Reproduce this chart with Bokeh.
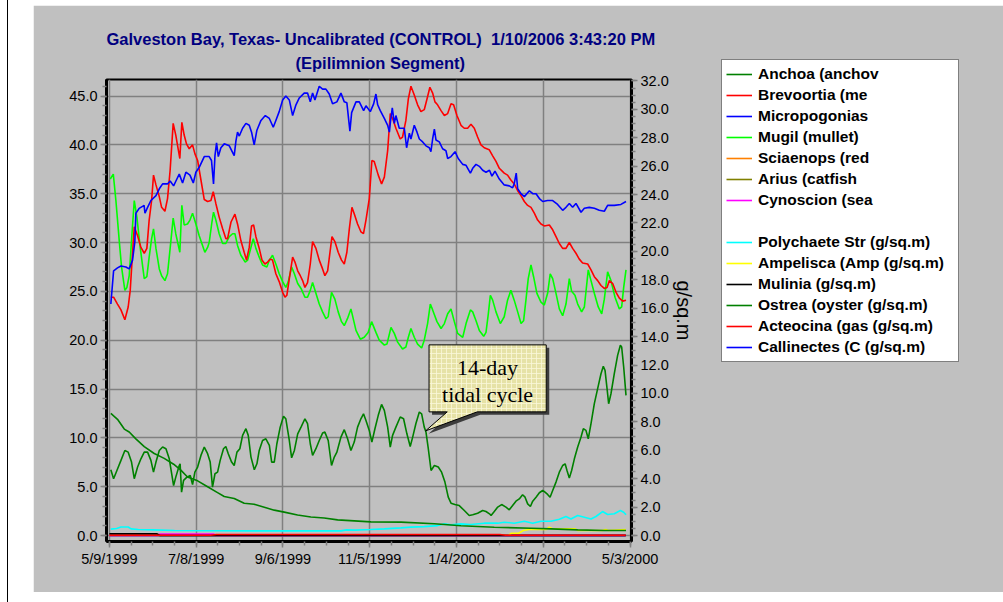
import numpy as np
from bokeh.plotting import figure
from bokeh.models import (Range1d, LinearAxis, FixedTicker, Legend, LegendItem,
                          Title, Div, Label, PrintfTickFormatter)
from bokeh.layouts import row
from bokeh.embed import file_html
from bokeh.resources import INLINE

# ---------------- data (x = days after 5/9/1999) ----------------
x_ticks = [0, 60, 120, 180, 240, 300, 360]
x_tick_labels = ["5/9/1999", "7/8/1999", "9/6/1999", "11/5/1999",
                 "1/4/2000", "3/4/2000", "5/3/2000"]
left_ticks = [0, 5, 10, 15, 20, 25, 30, 35, 40, 45]
right_ticks = [0, 2, 4, 6, 8, 10, 12, 14, 16, 18, 20, 22, 24, 26, 28, 30, 32]

title_line1 = "Galveston Bay, Texas- Uncalibrated (CONTROL)\u00a0 1/10/2006 3:43:20 PM"
title_line2 = "(Epilimnion Segment)"
right_axis_label = "g/sq.m"
callout_lines = ["14-day", "tidal cycle"]

anchoa_days = [1, 5.6, 10.3, 13.7, 18.3, 24.1, 31, 37.9, 44.4, 49.4, 54, 61, 67.9, 74.8,
               79.4, 86.3, 93.2, 100.1, 107.1, 114, 120.9, 130.1, 139.3, 148.5, 157.8,
               169.3, 180.8, 201.6, 224.7, 243.1, 266.1, 291.5, 305.3, 323.8, 342.2, 357.2]
anchoa_vals = [12.5, 11.9, 10.9, 10.6, 9.9, 9.1, 8.4, 7.9, 7.3, 6.7, 6.0, 5.6, 5.0, 4.4,
               4.0, 3.8, 3.3, 3.2, 2.9, 2.6, 2.4, 2.1, 1.9, 1.8, 1.6,
               1.5, 1.4, 1.37, 1.2, 1.0, 0.85, 0.75, 0.68, 0.58, 0.51, 0.51]

brev_days = [1, 2.9, 5.6, 8, 10.7, 13, 14.4, 16, 17.2, 19.5,
             21.8, 24.1, 25.9, 27.5, 29.2, 30.5, 32.2, 34.5, 36.1, 38.4,
             40.2, 42, 44.1, 45.9, 48.7, 50.1, 51.7, 53.3, 55.2, 57.5,
             59.1, 61, 63.3, 65.6, 67.9, 70.2, 71.8, 73.6, 75.9, 78.3,
             80.5, 81.7, 84.1, 86.8, 88.6, 90.9, 93.2, 94.8, 96.7, 98.3,
             99.7, 101.3, 103.6, 105.5, 107.5, 109.4, 111.2, 112.8, 115.1, 117.4,
             119.8, 121.4, 122.7, 124.4, 126.7, 128.3, 130.2, 132, 133.6, 135.2,
             137, 138.9, 140.5, 142.8, 145.1, 147.4, 149, 150.9, 152.7, 153.9,
             155.9, 158.2, 160.5, 162.4, 164.2, 165.9, 167.7, 169.4, 171.6, 173.9,
             175.7, 177.4, 179.7, 181.5, 183.1, 185.9, 188.2, 190.1, 192.4, 194.2,
             196.3, 198.1, 201.1, 202.7, 205, 206.7, 208.5, 210.8, 213.1, 215.4,
             217.7, 219.6, 221.6, 223.5, 225.1, 226.9, 229.3, 231.6, 233.9, 236.2,
             238, 240.3, 243.1, 245.4, 247.7, 250, 252.3, 254.6, 256.9, 259.2,
             262.6, 264.9, 267.3, 269.6, 273, 275.3, 277.6, 279.9, 282.3, 284.6,
             286.9, 289.2, 291.5, 293.8, 296.1, 298.4, 300.7, 304.2, 306.5, 308.8,
             311.1, 313.4, 315.7, 318, 320.3, 322.6, 324.9, 327.2, 330.7, 333,
             335.3, 337.6, 339.9, 342.2, 344.1, 345.7, 348, 350.3, 352.6, 354.9,
             357.2]
brev_vals = [24.4, 24.4, 23.7, 23.1, 22.1, 23.4, 25.1, 28.9, 31.6, 30.7,
             29.5, 28.9, 29.4, 32.3, 34.3, 36.9, 35.9, 34.7, 33.6, 33.2,
             34.5, 37.4, 42.2, 41.0, 38.6, 42.3, 41.0, 40.1, 39.6, 40.0,
             39.1, 38.4, 36.4, 34.4, 34.2, 34.3, 35.2, 34.0, 32.6, 31.4,
             30.4, 30.4, 32.1, 32.9, 31.9, 30.2, 29.0, 28.2, 29.5, 31.7,
             31.8, 30.6, 29.4, 28.2, 27.8, 28.0, 28.3, 28.2, 26.8, 26.0,
             24.9, 24.4, 24.6, 26.3, 28.5, 28.0, 27.1, 26.6, 26.1, 25.4,
             25.9, 27.8, 30.1, 29.4, 28.2, 27.3, 26.6, 27.1, 29.2, 30.6,
             30.1, 29.0, 28.2, 27.8, 29.0, 31.4, 33.6, 32.9, 31.9, 31.1,
             30.9, 32.3, 34.5, 38.4, 38.3, 36.9, 36.0, 36.7, 39.4, 43.2,
             42.5, 41.7, 40.6, 40.8, 42.5, 44.7, 46.0, 45.1, 44.1, 43.4,
             43.6, 44.7, 45.9, 45.3, 44.4, 44.1, 43.5, 43.0, 43.2, 44.2,
             44.1, 43.0, 42.0, 41.7, 41.7, 42.1, 41.7, 40.8, 40.0, 39.7,
             39.5, 38.9, 38.3, 37.6, 37.1, 36.9, 36.4, 36.0, 35.3, 34.8,
             34.2, 33.8, 33.6, 33.0, 32.3, 31.9, 31.7, 31.8, 31.3, 30.6,
             29.9, 29.4, 29.4, 30.0, 29.4, 28.9, 28.3, 27.9, 27.8, 27.2,
             26.5, 26.1, 25.6, 25.3, 25.4, 26.1, 25.8, 24.9, 24.3, 24.0,
             24.1]

micro_days = [1, 2.9, 5.6, 8, 11.4, 13.7, 16, 17.6, 18.3, 20.6,
              22.9, 24, 24.6, 26.4, 28.7, 32.2, 34.5, 36.8, 40.2, 42,
              44.4, 46, 48.3, 50.6, 52.9, 55.7, 58, 59.8, 62.1, 65.6,
              69, 70.6, 72, 73, 74.1, 75.3, 77.1, 79.4, 82.9, 86.3,
              87.5, 88.6, 89.8, 92.1, 94.4, 96.7, 98.3, 100.1, 102, 104.8,
              107.8, 110.6, 113.3, 115.1, 117.4, 119.8, 122, 124.4, 126.7, 129,
              131.3, 134.7, 137, 138.9, 140.5, 142.1, 145.1, 147.4, 149.7, 152,
              154.3, 157.3, 160.1, 162.4, 164.2, 166.3, 167.5, 170.5, 172.8, 175.8,
              177.4, 180.4, 182.7, 184.3, 185.5, 187.3, 190.1, 192.4, 193.6, 194.2,
              195.6, 197, 198.1, 200.4, 203.9, 205.5, 207.4, 208.5, 210.8, 212.7,
              214.3, 216.6, 218.9, 221.2, 222.3, 223.5, 224.7, 225.8, 228.1, 230.4,
              232.7, 233.9, 236.2, 239, 241.2, 244.3, 246.6, 249.6, 251.2, 253.5,
              255.8, 258.1, 260.4, 262.8, 264.5, 266.6, 269.6, 273, 276.5, 278.8,
              279.9, 281.3, 282.3, 284.6, 286.9, 290.4, 292.7, 295, 297.3, 299.6,
              303, 306.5, 309.9, 313.4, 315.7, 318, 320.3, 322.6, 326.1, 328.4,
              331.8, 335.3, 338.7, 342.2, 344.5, 349.1, 353.7, 357.2]
micro_vals = [23.7, 27.1, 27.4, 27.6, 27.5, 27.3, 28.2, 30.1, 33.0, 33.5,
              33.7, 33.8, 33.0, 33.6, 34.3, 34.8, 35.5, 36.0, 36.0, 36.3,
              35.8, 36.3, 37.0, 36.1, 37.2, 36.9, 36.1, 37.2, 37.7, 38.8,
              38.8, 38.4, 36.0, 38.9, 40.2, 38.8, 39.7, 40.1, 39.9, 38.9,
              40.4, 41.3, 40.9, 41.7, 42.2, 42.0, 41.3, 40.0, 41.5, 42.5,
              43.0, 42.7, 41.8, 42.5, 43.4, 44.6, 45.0, 44.6, 43.0, 44.1,
              44.8, 45.3, 45.3, 44.4, 45.3, 44.6, 46.0, 45.7, 45.7, 45.2,
              44.2, 44.4, 45.3, 44.4, 44.3, 41.4, 43.3, 44.4, 44.4, 43.5,
              44.0, 43.4, 44.2, 45.2, 44.1, 43.5, 42.7, 42.0, 41.3, 42.2,
              43.8, 42.2, 43.0, 41.7, 41.7, 39.7, 41.2, 40.6, 42.0, 41.3,
              40.6, 40.3, 39.9, 39.7, 39.3, 40.6, 41.6, 40.5, 40.3, 39.6,
              39.4, 38.6, 38.8, 39.3, 38.6, 38.0, 37.9, 37.1, 37.6, 38.0,
              37.8, 37.4, 37.2, 37.4, 36.8, 37.3, 36.5, 35.9, 35.8, 35.6,
              36.0, 37.1, 35.5, 35.0, 34.7, 35.3, 35.0, 35.0, 34.5, 34.2,
              34.3, 34.3, 33.9, 33.3, 33.6, 34.0, 33.6, 34.0, 33.1, 33.5,
              33.6, 33.5, 33.3, 33.2, 33.8, 33.8, 33.9, 34.2]

mugil_days = [0.6, 2.7, 4.5, 6.8, 8.4, 10.7, 12.1, 13.7, 15.3, 17.2,
              19, 21.3, 24.1, 25.9, 27.5, 29.2, 30.5, 32.2, 34.5, 36.1,
              38.4, 40.2, 42, 44.1, 45.9, 48.7, 50.1, 51.7, 54, 55.7,
              57.5, 59.8, 62.1, 64.4, 66, 67.9, 69, 70.9, 72, 73.6,
              75.9, 78.3, 80.5, 82.9, 85.2, 86.8, 88.6, 90.9, 93.9, 95.6,
              97.9, 99.5, 101.3, 103.6, 105.9, 108.9, 110.6, 112.8, 115.1, 117.4,
              119.8, 122, 123.7, 126, 127.9, 130.2, 132.5, 135.2, 137, 138.9,
              140.5, 142.8, 145.1, 147.4, 149.7, 151.3, 153.6, 155.9, 158.2, 160.5,
              162.4, 164.6, 167, 170.5, 173.5, 176.2, 178.9, 181.3, 184.3, 186.6,
              190.1, 191.9, 194.7, 197, 199.3, 202.7, 205, 206.7, 208.5, 210.8,
              213.1, 215.9, 217.7, 220, 221.9, 223.5, 226.5, 229.3, 231.6, 233.9,
              236.2, 238.5, 240.8, 244.3, 246.6, 249.6, 251.2, 253.5, 255.8, 258.8,
              260.4, 262, 263.4, 265, 267.3, 270.3, 273, 275.3, 277.6, 279.9,
              282.3, 284.6, 286.4, 288, 289.6, 291.5, 293.3, 295.6, 298.4, 300.7,
              303, 304.8, 306.5, 308.8, 311.1, 313.4, 315.7, 318, 319.6, 321.9,
              323.8, 326.5, 328.4, 331.1, 333, 335.3, 338, 340.4, 342.2, 344.5,
              346.8, 349.6, 352.6, 354.2, 355.6, 357.2]
mugil_vals = [36.5, 37.0, 34.3, 30.2, 27.5, 25.1, 25.4, 26.6, 30.2, 34.3,
              32.6, 29.5, 26.3, 26.5, 28.5, 30.4, 31.4, 29.4, 27.3, 26.6,
              26.1, 26.8, 29.4, 32.5, 30.9, 29.0, 33.8, 31.8, 31.9, 32.3,
              33.0, 31.9, 30.7, 29.7, 29.0, 29.5, 30.0, 32.1, 33.1, 32.3,
              30.9, 29.9, 29.9, 30.6, 30.9, 30.9, 29.7, 28.7, 28.0, 28.2,
              29.5, 30.4, 29.4, 28.5, 27.7, 27.5, 28.2, 28.7, 27.8, 26.8,
              26.0, 25.4, 26.0, 27.5, 26.8, 25.8, 25.3, 24.4, 24.4, 25.1,
              25.9, 24.8, 23.7, 22.9, 22.2, 22.4, 24.9, 24.2, 22.9, 21.9,
              21.5, 22.2, 23.2, 21.0, 20.1, 20.3, 20.8, 21.9, 20.8, 20.0,
              19.5, 19.6, 21.3, 20.7, 19.8, 19.1, 19.3, 20.3, 21.2, 20.3,
              19.6, 19.2, 20.0, 21.7, 23.7, 23.1, 21.9, 21.2, 21.7, 22.7,
              23.2, 21.9, 20.7, 20.3, 21.7, 23.1, 22.9, 22.0, 21.0, 20.4,
              20.8, 22.7, 24.6, 24.1, 22.9, 21.7, 22.4, 24.1, 25.1, 24.1,
              22.9, 21.7, 22.0, 24.1, 26.3, 27.7, 26.5, 24.8, 23.9, 23.6,
              24.8, 26.8, 26.3, 24.8, 23.2, 22.5, 23.7, 26.3, 25.0, 24.6,
              23.7, 22.9, 23.4, 27.2, 26.1, 24.8, 23.4, 22.7, 24.2, 27.0,
              26.1, 24.4, 23.2, 23.4, 25.4, 27.2]

sciaenops_days = [0, 357]
sciaenops_vals = [0.02, 0.02]
arius_days = [0, 357]
arius_vals = [0.02, 0.02]
cynoscion_days = [0, 33, 35, 72, 74, 357]
cynoscion_vals = [0.0, 0.0, 0.15, 0.15, 0.0, 0.0]

poly_days = [1, 5, 8, 13, 15, 20, 30, 45, 100, 160,
             164, 170, 180.8, 190, 201.6, 208.5, 217.7, 226.9, 231.6, 236.2,
             243.1, 250, 259.2, 268.5, 273, 279.9, 286.9, 292.7, 298.4, 305.3,
             311.1, 315.7, 319.1, 323.8, 328.4, 333, 336.4, 341, 344.5, 349.1,
             353.3, 355.6, 357.2]
poly_vals = [0.45, 0.5, 0.6, 0.6, 0.47, 0.42, 0.4, 0.35, 0.33, 0.33,
             0.4, 0.38, 0.42, 0.47, 0.54, 0.59, 0.63, 0.7, 0.82, 0.75,
             0.82, 0.78, 0.87, 0.87, 0.94, 0.87, 1.01, 0.87, 1.01, 1.01,
             1.15, 1.34, 1.17, 1.41, 1.29, 1.17, 1.34, 1.69, 1.48, 1.53,
             1.76, 1.64, 1.46]

ampel_days = [0, 276, 278, 283, 286, 290, 302, 304, 306, 322, 324, 341, 343, 345, 357]
ampel_vals = [0.02, 0.02, 0.16, 0.16, 0.35, 0.42, 0.42, 0.59, 0.5, 0.47, 0.35, 0.35, 0.42, 0.35, 0.42]

mulinia_days = [0, 33, 35, 357]
mulinia_vals = [0.12, 0.12, 0.0, 0.0]

ostrea_days = [1, 2.9, 5.2, 8, 10.7, 13, 15.3, 17.2, 19.5, 21.8,
               24.1, 26.4, 28.7, 30.5, 32.2, 34.5, 36.8, 39.1, 41.4, 44.4,
               45.9, 48.3, 48.9, 49.9, 51.3, 53.6, 55.9, 57.5, 59.1, 61,
               63.3, 65.6, 67.9, 69.7, 71.3, 73, 74.8, 76.6, 78.9, 80.5,
               82.2, 84.5, 86.3, 88.2, 90.2, 92.1, 94.4, 96, 97.9, 100.2,
               102, 103.6, 105.9, 108.2, 110.6, 112.2, 114, 115.8, 118.1, 120.4,
               122, 124.4, 126, 127.9, 130.2, 132.5, 135.2, 137, 138.9, 140.5,
               142.8, 145.1, 147.4, 149, 151.3, 153.6, 155.5, 157.3, 160.1, 162.4,
               164.7, 167, 169.3, 171.6, 173.9, 175.7, 177.4, 179.7, 181.5, 183.6,
               185.9, 188.2, 190.1, 192.4, 194.2, 195.8, 198.1, 201.1, 203.4, 205.7,
               208, 209.7, 211.9, 214.3, 215.9, 217.7, 218.9, 220.5, 222.4, 224.7,
               227.4, 229.7, 232, 234.3, 236.2, 238.9, 241.9, 245.4, 248.8, 251.2,
               254.6, 258.1, 260.4, 262.8, 263.9, 265.7, 268.5, 271.2, 274.2, 276.5,
               278.8, 281.1, 283.4, 285.7, 287.4, 289.2, 291.1, 292.7, 295, 297.3,
               299.6, 301.2, 303, 304.7, 306.5, 308.8, 311.1, 313.4, 315.1, 316.4,
               318, 319.6, 321.5, 323.8, 326.1, 327.7, 329.5, 331.1, 333, 335.3,
               337.6, 339.9, 341.5, 342.7, 344.1, 345.2, 346.8, 349.1, 351.4, 353.3,
               354.2, 355.6, 357.2]
ostrea_vals = [4.63, 4.0, 4.58, 5.29, 5.99, 5.87, 5.17, 4.0, 4.82, 5.4,
               5.87, 5.87, 5.29, 4.46, 5.17, 5.99, 6.23, 6.11, 5.4, 3.52,
               4.11, 4.93, 5.05, 3.05, 3.88, 4.11, 4.23, 3.59, 4.46, 4.82,
               5.64, 6.23, 5.76, 5.17, 3.41, 4.35, 4.46, 5.29, 6.11, 6.27,
               5.76, 5.17, 4.93, 5.87, 6.11, 7.05, 7.52, 7.05, 5.52, 4.63,
               5.05, 5.99, 6.69, 6.81, 6.34, 5.17, 5.17, 6.46, 7.63, 8.39,
               8.22, 6.69, 5.47, 5.99, 7.16, 7.63, 8.22, 7.87, 6.46, 5.64,
               6.11, 6.69, 7.21, 7.28, 6.69, 4.93, 5.52, 5.87, 6.93, 7.45,
               6.81, 5.99, 6.58, 7.63, 8.22, 8.57, 8.1, 7.4, 6.58, 7.52,
               8.46, 9.23, 8.81, 7.63, 6.23, 7.05, 7.63, 8.34, 8.22, 7.16,
               6.27, 6.93, 7.87, 8.69, 8.57, 7.63, 7.28, 6.11, 4.58, 4.93,
               4.82, 4.46, 3.76, 2.7, 2.28, 2.18, 2.11, 1.76, 1.41, 1.46,
               1.57, 1.76, 1.69, 1.53, 1.41, 1.64, 2.0, 2.18, 2.0, 1.81,
               2.11, 2.42, 2.58, 2.87, 2.7, 2.23, 2.04, 2.42, 2.7, 3.01,
               3.17, 3.05, 2.89, 2.7, 3.17, 3.76, 4.46, 4.93, 5.05, 4.58,
               4.04, 4.58, 5.4, 6.23, 6.93, 7.52, 7.4, 6.81, 7.87, 9.28,
               10.34, 11.39, 11.91, 11.63, 10.34, 9.28, 9.98, 11.39, 12.68, 13.39,
               13.27, 11.86, 9.87]

acteo_days = [0, 70, 74, 270, 274, 357]
acteo_vals = [0.02, 0.02, 0.07, 0.07, 0.02, 0.02]
calli_days = [0, 357]
calli_vals = [0.0, 0.0]

callout_day = 218.6   # where the callout points on the Ostrea curve

# ---------------- main figure ----------------
X0, X1 = -2.0, 361.0
YL0, YL1 = -0.61, 46.69
YR0, YR1 = -0.42, 32.1
FW, FH = 525, 462
GRAY = "#C0C0C0"
FONT = "Liberation Sans"

p = figure(x_range=Range1d(X0, X1), y_range=Range1d(YL0, YL1),
           frame_width=FW, frame_height=FH,
           min_border_left=73, min_border_right=359, min_border_top=74, min_border_bottom=51,
           output_backend="svg", toolbar_location=None, title=None,
           background_fill_color=GRAY, border_fill_color=GRAY,
           outline_line_color="black", outline_line_width=2)
p.margin = (5, 0, 0, 0)
p.extra_y_ranges = {"right": Range1d(YR0, YR1)}

def style_axis(ax):
    ax.axis_line_width = 3
    ax.axis_line_color = "black"
    ax.major_tick_line_color = "#808080"
    ax.minor_tick_line_color = "#808080"
    ax.major_tick_line_width = 1.5
    ax.minor_tick_line_width = 1.5
    ax.major_tick_in = 0
    ax.major_tick_out = 6
    ax.minor_tick_in = 0
    ax.minor_tick_out = 4
    ax.major_label_text_font = FONT
    ax.major_label_text_font_size = "14.5px"
    ax.major_label_text_color = "black"
    ax.major_label_standoff = 3

xax = p.xaxis[0]
style_axis(xax)
xax.ticker = FixedTicker(ticks=x_ticks, minor_ticks=list(range(0, 361, 15)))
xax.major_label_overrides = {t: lab for t, lab in zip(x_ticks, x_tick_labels)}

yax = p.yaxis[0]
style_axis(yax)
yax.ticker = FixedTicker(ticks=left_ticks, minor_ticks=list(range(0, 47)))
yax.formatter = PrintfTickFormatter(format="%.1f")

rax = LinearAxis(y_range_name="right", axis_label=right_axis_label)
style_axis(rax)
rax.ticker = FixedTicker(ticks=right_ticks, minor_ticks=[i * 0.5 for i in range(0, 65)])
rax.formatter = PrintfTickFormatter(format="%.1f")
rax.axis_label_text_font = FONT
rax.axis_label_text_font_size = "20px"
rax.axis_label_text_font_style = "normal"
rax.axis_label_text_color = "black"
rax.axis_label_standoff = 1
p.add_layout(rax, "right")

p.xgrid[0].ticker = FixedTicker(ticks=x_ticks)
p.ygrid[0].ticker = FixedTicker(ticks=left_ticks)
for g in (p.xgrid[0], p.ygrid[0]):
    g.grid_line_color = "#808080"
    g.grid_line_width = 1.5

# titles (line 2 added first so it sits closest to the frame)
t2 = Title(text=title_line2, align="left", offset=189, vertical_align="top", standoff=12,
           text_font=FONT, text_font_size="16.5px", text_font_style="bold", text_color="#000080")
t1 = Title(text=title_line1, align="left", offset=0, vertical_align="bottom", standoff=0,
           text_font=FONT, text_font_size="16.5px", text_font_style="bold", text_color="#000080")
p.add_layout(t2, "above")
p.add_layout(t1, "above")

# ---------------- series ----------------
series = {
    "Anchoa (anchov": (anchoa_days, anchoa_vals, "#008000", "default"),
    "Brevoortia (me": (brev_days, brev_vals, "#FF0000", "default"),
    "Micropogonias": (micro_days, micro_vals, "#0000FF", "default"),
    "Mugil (mullet)": (mugil_days, mugil_vals, "#00FF00", "default"),
    "Sciaenops (red": (sciaenops_days, sciaenops_vals, "#FF8000", "default"),
    "Arius (catfish": (arius_days, arius_vals, "#808000", "default"),
    "Cynoscion (sea": (cynoscion_days, cynoscion_vals, "#FF00FF", "default"),
    "Polychaete Str (g/sq.m)": (poly_days, poly_vals, "#00FFFF", "right"),
    "Ampelisca (Amp (g/sq.m)": (ampel_days, ampel_vals, "#FFFF00", "right"),
    "Mulinia (g/sq.m)": (mulinia_days, mulinia_vals, "#000000", "right"),
    "Ostrea (oyster (g/sq.m)": (ostrea_days, ostrea_vals, "#008000", "right"),
    "Acteocina (gas (g/sq.m)": (acteo_days, acteo_vals, "#FF0000", "right"),
    "Callinectes (C (g/sq.m)": (calli_days, calli_vals, "#0000FF", "right"),
}
legend_order = ["Anchoa (anchov", "Brevoortia (me", "Micropogonias", "Mugil (mullet)",
                "Sciaenops (red", "Arius (catfish", "Cynoscion (sea", None,
                "Polychaete Str (g/sq.m)", "Ampelisca (Amp (g/sq.m)", "Mulinia (g/sq.m)",
                "Ostrea (oyster (g/sq.m)", "Acteocina (gas (g/sq.m)", "Callinectes (C (g/sq.m)"]
draw_order = ["Sciaenops (red", "Arius (catfish", "Callinectes (C (g/sq.m)",
              "Ampelisca (Amp (g/sq.m)", "Cynoscion (sea", "Mulinia (g/sq.m)",
              "Acteocina (gas (g/sq.m)", "Polychaete Str (g/sq.m)", "Anchoa (anchov",
              "Ostrea (oyster (g/sq.m)", "Mugil (mullet)", "Brevoortia (me", "Micropogonias"]

rend = {}
for name in draw_order:
    d, v, c, rng = series[name]
    rend[name] = p.line(d, v, line_color=c, line_width=1.6, y_range_name=rng)
blank = p.line(x=[0, 1], y=[0, 0], line_alpha=0, line_width=1.6)

# ---------------- callout ----------------
ppd = FW / (X1 - X0)
ppl = FH / (YL1 - YL0)
ppr = FH / (YR1 - YR0)
tip_r = float(np.interp(callout_day, ostrea_days, ostrea_vals))
tip_l = YL0 + (tip_r - YR0) * ppr / ppl

def pt(dx, dy):
    return callout_day + dx / ppd, tip_l + dy / ppl

shape = [(3.5, 86), (120.7, 86), (120.7, 19), (51.7, 19), (0, 0), (21.7, 19), (3.5, 19)]
sx = [pt(a + 3, b - 3)[0] for a, b in shape]
sy = [pt(a + 3, b - 3)[1] for a, b in shape]
p.patch(sx, sy, fill_color="#3c3c3c", line_alpha=0)
cx = [pt(a, b)[0] for a, b in shape]
cy = [pt(a, b)[1] for a, b in shape]
p.patch(cx, cy, fill_color="#E6E2A6", line_color="black", line_width=1,
        hatch_pattern="+", hatch_color="#FAF8DA", hatch_scale=5, hatch_weight=1, hatch_alpha=0.8)
for txt, dy in zip(callout_lines, (63.7, 36.7)):
    lx, ly = pt(62, dy)
    p.add_layout(Label(x=lx, y=ly, text=txt, text_font="Liberation Serif",
                       text_font_size="22px", text_align="center", text_baseline="middle",
                       text_color="black"))

# ---------------- legend (right side panel) ----------------
items = [LegendItem(label=" ", renderers=[blank]) if n is None
         else LegendItem(label=n, renderers=[rend[n]]) for n in legend_order]
legend = Legend(items=items, location=(-213, 179), margin=0,
                background_fill_color="white", background_fill_alpha=1,
                border_line_color="black", border_line_width=1.5,
                label_text_font=FONT, label_text_font_style="bold", label_text_font_size="15.5px",
                label_text_color="black", label_height=20, glyph_height=20, glyph_width=26,
                label_standoff=6, label_width=196, padding=4, spacing=1)
p.add_layout(legend, "right")

edge = Div(text="", width=26, height=602, margin=(0, 0, 0, 7),
           styles={"border-left": "1px solid black", "box-sizing": "border-box"})
layout = row(edge, p)

open("out.html", "w").write(file_html(layout, INLINE))
